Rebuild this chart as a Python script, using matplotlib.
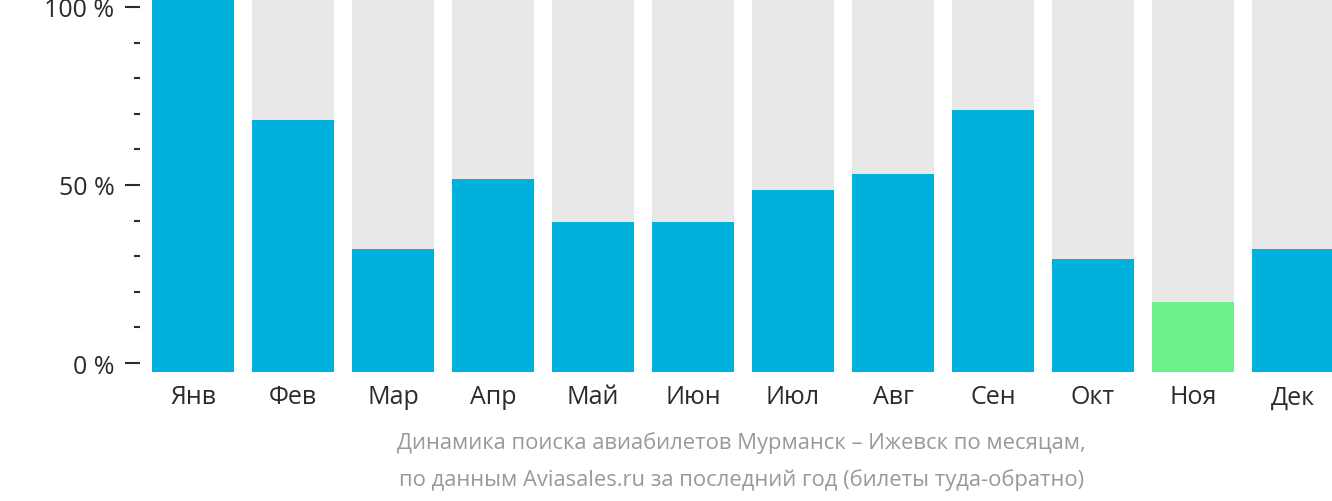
import matplotlib
matplotlib.use("Agg")
import matplotlib.pyplot as plt
import numpy as np

plt.rcParams["font.family"] = ["Open Sans", "DejaVu Sans"]

months = ["Янв", "Фев", "Мар", "Апр", "Май", "Июн",
          "Июл", "Авг", "Сен", "Окт", "Ноя", "Дек"]
values = [100, 67.6, 33.0, 51.7, 40.2, 40.2, 48.8, 53.1, 70.2, 30.3, 18.8, 33.0]
lowest_month = "Ноя"

BLUE = "#00b1dd"
GREEN = "#6cf28a"
GREY = "#e8e8e8"
TEXT = "#2b2b2b"

# the % ticks sit slightly inside the bar area (0 % a bit above the base,
# 100 % a bit below the top), so map tick percent -> bar scale
TICK_LO, TICK_HI = 2.41, 97.86


def tick_pos(p):
    return TICK_LO + p / 100 * (TICK_HI - TICK_LO)


fig = plt.figure(figsize=(13.32, 5.02), dpi=100)
ax = fig.add_axes([152 / 1332, 1 - 373 / 502, 1 - 152 / 1332, 373 / 502])

x = np.arange(len(months))
ax.bar(x, [100] * len(months), width=0.82, color=GREY, zorder=1)
colors = [GREEN if m == lowest_month else BLUE for m in months]
ax.bar(x, values, width=0.82, color=colors, zorder=2)

ax.set_xlim(-0.41, 11.39)
ax.set_ylim(0, 100)

for s in ax.spines.values():
    s.set_visible(False)
ax.spines["left"].set_position(("outward", 9))

ax.set_xticks(x)
ax.set_xticklabels(months, fontsize=18, color=TEXT)
ax.tick_params(axis="x", length=0, pad=9)

ax.set_yticks([tick_pos(p) for p in (0, 50, 100)])
ax.set_yticklabels(["0 %", "50 %", "100 %"], fontsize=18, color=TEXT)
ax.set_yticks([tick_pos(p) for p in range(10, 100, 10) if p != 50], minor=True)
ax.tick_params(axis="y", which="major", length=11, width=1.5, color=TEXT, pad=7)
ax.tick_params(axis="y", which="minor", length=4.5, width=1.5, color=TEXT)

# footer is centred under the plot area, not the whole figure
fx = 741.5 / 1332
fig.text(fx, 1 - 443 / 502, "Динамика поиска авиабилетов Мурманск – Ижевск по месяцам,",
         ha="center", va="center", fontsize=15.8, color="#999999")
fig.text(fx, 1 - 480 / 502, "по данным Aviasales.ru за последний год (билеты туда-обратно)",
         ha="center", va="center", fontsize=15.8, color="#999999")

fig.savefig("out.png", dpi=100)
